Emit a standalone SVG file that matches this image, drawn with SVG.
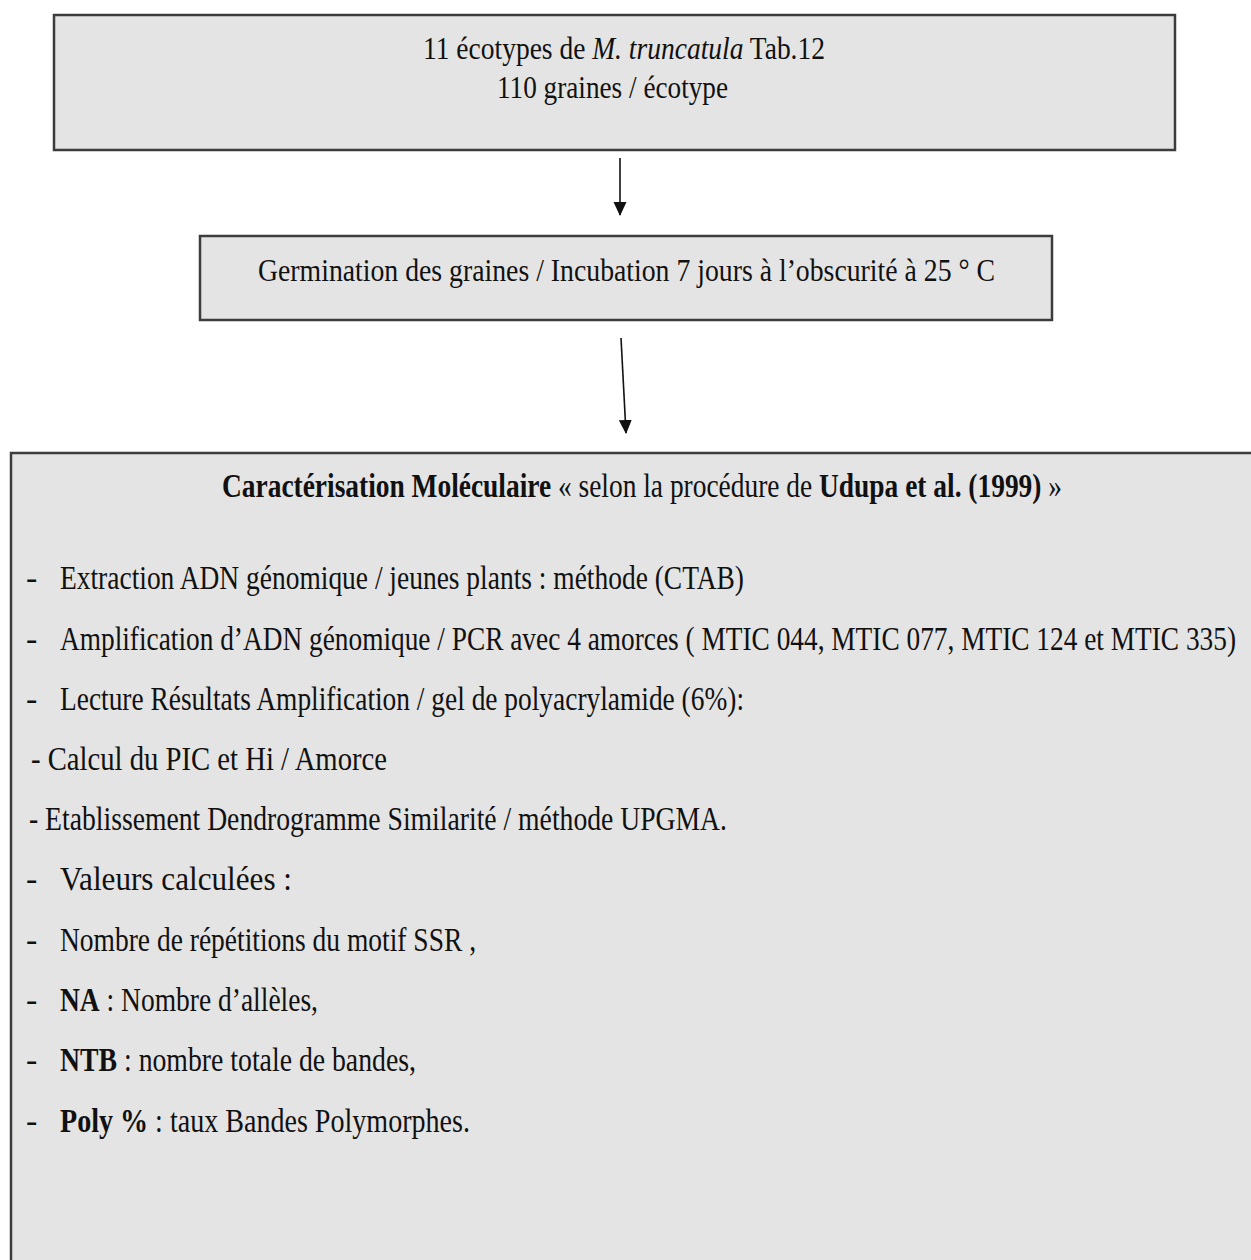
<svg xmlns="http://www.w3.org/2000/svg" width="1251" height="1260" viewBox="0 0 1251 1260">
  <style>
    .box { fill: #e4e4e4; stroke: #3c3c3c; stroke-width: 2.5; }
    .t { font-family: "Liberation Serif", "Times New Roman", serif; fill: #111; }
    .s29 { font-size: 32px; }
    .s31 { font-size: 34px; }
    .b { font-weight: bold; }
    .i { font-style: italic; }
    .conn { stroke: #111; stroke-width: 1.6; fill: none; }
  </style>
  <defs>
    <marker id="arrow" markerUnits="userSpaceOnUse" markerWidth="14" markerHeight="18" refX="13" refY="6.5" orient="auto">
      <path d="M0,0 L14,6.5 L0,13 Z" fill="#111"/>
    </marker>
  </defs>
  <rect width="1251" height="1260" fill="#ffffff"/>

  <g id="node-ecotypes">
    <rect class="box" x="54" y="15" width="1121" height="135"/>
    <text class="t s29" x="423" y="59" textLength="402" lengthAdjust="spacingAndGlyphs">11 écotypes de <tspan class="i">M. truncatula</tspan>  Tab.12</text>
    <text class="t s29" x="497" y="98" textLength="231" lengthAdjust="spacingAndGlyphs">110 graines / écotype</text>
  </g>

  <g id="node-germination">
    <rect class="box" x="200" y="236" width="852" height="84"/>
    <text class="t s29" x="258" y="281" textLength="737" lengthAdjust="spacingAndGlyphs">Germination des graines /  Incubation 7 jours à l’obscurité à 25 °  C</text>
  </g>

  <g id="node-caracterisation">
    <rect class="box" x="11" y="453" width="1270" height="830"/>
    <text class="t s31" x="222" y="497" textLength="840" lengthAdjust="spacingAndGlyphs"><tspan class="b">Caractérisation Moléculaire</tspan> « selon la procédure de <tspan class="b">Udupa et al. (1999)</tspan> »</text>

    <text class="t s31" x="26" y="589">-</text>
    <text class="t s31" x="60" y="589" textLength="684" lengthAdjust="spacingAndGlyphs">Extraction ADN génomique / jeunes plants : méthode (CTAB)</text>

    <text class="t s31" x="26" y="650">-</text>
    <text class="t s31" x="60" y="650" textLength="1176" lengthAdjust="spacingAndGlyphs">Amplification d’ADN génomique / PCR avec 4 amorces ( MTIC 044, MTIC 077, MTIC 124 et MTIC 335)</text>

    <text class="t s31" x="26" y="710">-</text>
    <text class="t s31" x="60" y="710" textLength="684" lengthAdjust="spacingAndGlyphs">Lecture Résultats Amplification / gel de polyacrylamide (6%):</text>

    <text class="t s31" x="31" y="770" textLength="356" lengthAdjust="spacingAndGlyphs">- Calcul du  PIC et Hi  / Amorce</text>

    <text class="t s31" x="29" y="830" textLength="698" lengthAdjust="spacingAndGlyphs">- Etablissement Dendrogramme Similarité / méthode UPGMA.</text>

    <text class="t s31" x="26" y="890">-</text>
    <text class="t s31" x="60" y="890" textLength="232" lengthAdjust="spacingAndGlyphs">Valeurs calculées :</text>

    <text class="t s31" x="26" y="951">-</text>
    <text class="t s31" x="60" y="951" textLength="416" lengthAdjust="spacingAndGlyphs">Nombre de répétitions du motif SSR ,</text>

    <text class="t s31" x="26" y="1011">-</text>
    <text class="t s31" x="60" y="1011" textLength="258" lengthAdjust="spacingAndGlyphs"><tspan class="b">NA</tspan> : Nombre d’allèles,</text>

    <text class="t s31" x="26" y="1071">-</text>
    <text class="t s31" x="60" y="1071" textLength="356" lengthAdjust="spacingAndGlyphs"><tspan class="b">NTB</tspan> : nombre totale de bandes,</text>

    <text class="t s31" x="26" y="1132">-</text>
    <text class="t s31" x="60" y="1132" textLength="410" lengthAdjust="spacingAndGlyphs"><tspan class="b">Poly %</tspan> :  taux Bandes Polymorphes.</text>
  </g>

  <g id="connectors">
    <line class="conn" x1="620" y1="158" x2="620" y2="215" marker-end="url(#arrow)"/>
    <line class="conn" x1="621" y1="338" x2="626" y2="433" marker-end="url(#arrow)"/>
  </g>
</svg>
